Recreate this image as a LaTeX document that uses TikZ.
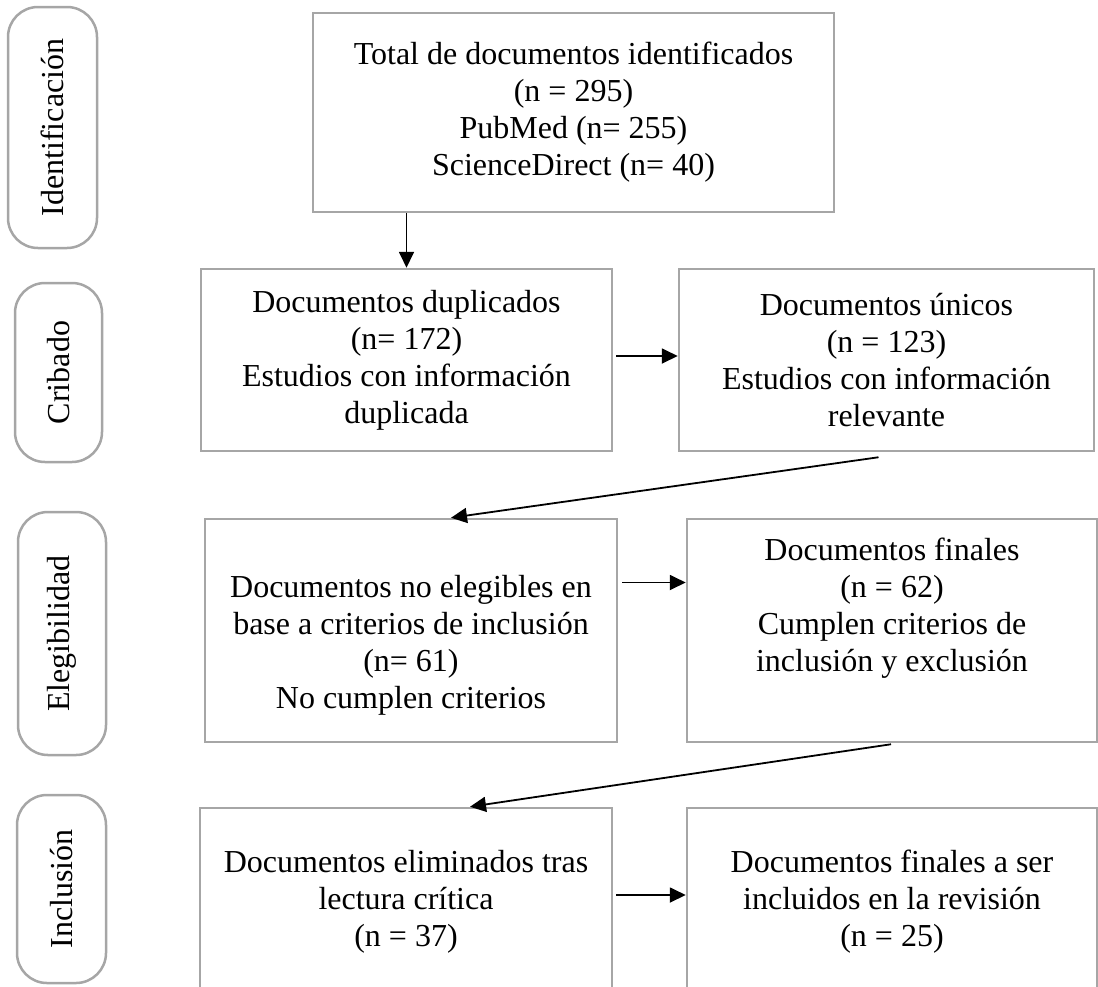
\documentclass[tikz,border=0pt]{standalone}
\usepackage{fontspec}
\setmainfont{Liberation Serif}
\usetikzlibrary{arrows.meta,positioning}

\begin{document}
\begin{tikzpicture}
[x=1pt,y=-1pt,
stage/.style={draw=gray!70,line width=2.5pt,rounded corners=30pt,
  inner sep=0pt,rotate=90,font=\fontsize{32}{37}\selectfont},
box/.style={draw=gray!70,line width=2.5pt,inner sep=0pt,align=center,
  font=\fontsize{32}{37}\selectfont},
txt/.style={align=center,inner sep=0pt,font=\fontsize{32}{37}\selectfont},
flow/.style={draw=black,line width=1.8pt,-{Triangle[length=16pt,width=15pt]}}]
\useasboundingbox (0,0) rectangle (1098,986);
\clip (0,0) rectangle (1098,986);

% stages
\node[stage,minimum width=241pt,minimum height=89pt] (sIdent) at (52.5,127.5) {Identificación};
\node[stage,minimum width=179pt,minimum height=87pt] (sCrib) at (58.5,372.5) {Cribado};
\node[stage,minimum width=243pt,minimum height=88pt] (sEleg) at (62,633.5) {Elegibilidad};
\node[stage,minimum width=188pt,minimum height=89pt] (sIncl) at (61.5,889) {Inclusión};

% boxes
\node[box,minimum width=521pt,minimum height=199pt] (total) at (573.5,112.5)
  {Total de documentos identificados\\(n = 295)\\PubMed (n= 255)\\ScienceDirect (n= 40)};
\node[box,minimum width=411pt,minimum height=182pt] (dup) at (406.5,360)
  {Documentos duplicados\\(n= 172)\\Estudios con información\\duplicada};
\node[box,minimum width=415pt,minimum height=182pt] (unicos) at (886.5,360)
  {Documentos únicos\\(n = 123)\\Estudios con información\\relevante};
\node[box,minimum width=412pt,minimum height=223pt] (noeleg) at (411,630.5) {};
\node[txt,below=57pt of noeleg.north]
  {Documentos no elegibles en\\base a criterios de inclusión\\(n= 61)\\No cumplen criterios};
\node[box,minimum width=410pt,minimum height=223pt] (finales) at (892,630.5) {};
\node[txt,below=20pt of finales.north]
  {Documentos finales\\(n = 62)\\Cumplen criterios de\\inclusión y exclusión};
\node[box,minimum width=412pt,minimum height=202pt] (elim) at (406,909) {};
\node[txt,below=43pt of elim.north]
  {Documentos eliminados tras\\lectura crítica\\(n = 37)};
\node[box,minimum width=410pt,minimum height=202pt] (incl) at (892,909) {};
\node[txt,below=43pt of incl.north]
  {Documentos finales a ser\\incluidos en la revisión\\(n = 25)};

% arrows
\draw[flow] (dup.north |- total.south) -- (dup.north);
\draw[flow] ([xshift=3pt,yshift=4pt]dup.east) -- ([yshift=4pt]unicos.west);
\draw[flow] ([xshift=-8pt,yshift=-5pt]unicos.south) -- ([xshift=40pt]noeleg.north);
\draw[flow] ([xshift=4pt,yshift=48pt]noeleg.east) -- ([yshift=48pt]finales.west);
\draw[flow] ([xshift=-1pt,yshift=-1pt]finales.south) -- ([xshift=64pt]elim.north);
\draw[flow] ([xshift=3pt,yshift=14pt]elim.east) -- ([yshift=14pt]incl.west);
\end{tikzpicture}
\end{document}
